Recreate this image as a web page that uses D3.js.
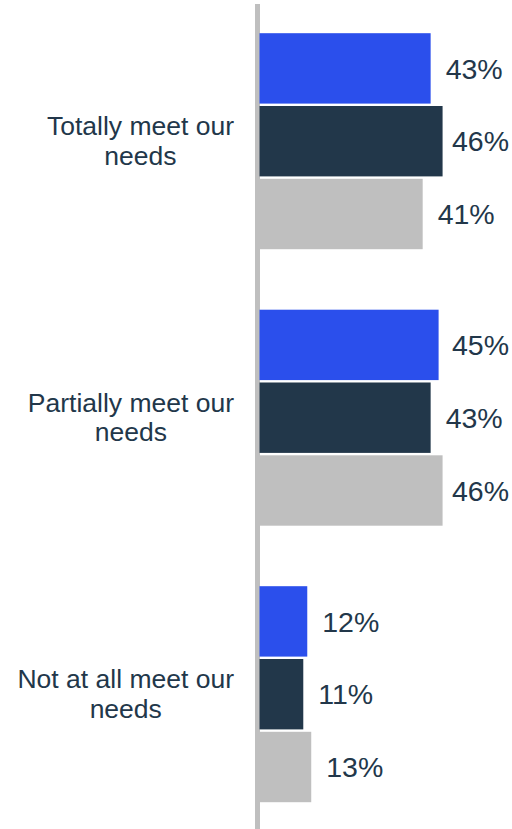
<!DOCTYPE html>
<html>
<head>
<meta charset="utf-8">
<script src="https://cdn.jsdelivr.net/npm/d3@7"></script>
<style>
  html, body { margin: 0; padding: 0; background: #ffffff; }
  svg { display: block; font-family: "Liberation Sans", Arial, sans-serif; }
</style>
</head>
<body>
<svg id="chart" width="512" height="829"></svg>
<script>
// Categories (each label split into lines) and the three series per category
const categories = ["Totally meet our needs", "Partially meet our needs", "Not at all meet our needs"];
const categoryLines = [["Totally meet our", "needs"], ["Partially meet our", "needs"], ["Not at all meet our", "needs"]];
const seriesNames = ["A", "B", "C"];
const seriesA = [43, 45, 12];
const seriesB = [46, 43, 11];
const seriesC = [41, 46, 13];
const seriesColors = ["#2b4fec", "#22374a", "#bfbfbf"];

const values = [seriesA, seriesB, seriesC];
const W = 512, H = 829;
const textColor = "#22374a";

const svg = d3.select("#chart");

// Value axis (no ticks drawn): 0 sits just right of the baseline rule
const x = d3.scaleLinear().domain([0, 100]).range([259.5, 657.5]);

// One band per category, then one sub-band per series
const y0 = d3.scaleBand().domain(categories).range([2.95, 832.45]).padding(0);
const groupPad = 30.25;
const y1 = d3.scaleBand().domain(seriesNames)
  .range([groupPad, y0.bandwidth() - groupPad])
  .paddingInner(0.033).paddingOuter(0);

// Baseline rule
svg.append("line")
  .attr("x1", 257.5).attr("x2", 257.5)
  .attr("y1", 4).attr("y2", H)
  .attr("stroke", "#bfbfbf").attr("stroke-width", 5);

const groups = svg.selectAll("g.cat")
  .data(categories)
  .join("g")
  .attr("class", "cat")
  .attr("transform", d => `translate(0,${y0(d)})`);

groups.each(function(cat, ci) {
  const g = d3.select(this);
  seriesNames.forEach((s, si) => {
    const v = values[si][ci];
    g.append("rect")
      .attr("x", x(0))
      .attr("y", y1(s))
      .attr("width", x(v) - x(0))
      .attr("height", y1.bandwidth())
      .attr("fill", seriesColors[si]);

    const t = g.append("text")
      .attr("y", y1(s) + y1.bandwidth() / 2)
      .attr("dy", "0.36em")
      .attr("font-size", 28.5)
      .attr("fill", textColor)
      .text(v + "%");
    const tw = t.node().getComputedTextLength();
    const tx = Math.min(x(v) + 15, W - 3 - tw);
    t.attr("x", tx);
  });
});

// Category labels: block right-aligned, lines centred within it
const labelRight = 234;
groups.each(function(cat, ci) {
  const g = d3.select(this);
  const lines = categoryLines[ci];
  const texts = lines.map((ln, li) => g.append("text")
    .attr("font-size", 26.5)
    .attr("fill", textColor)
    .attr("text-anchor", "middle")
    .attr("y", y0.bandwidth() / 2 - 6 + li * 29.5)
    .text(ln));
  const maxW = d3.max(texts, t => t.node().getComputedTextLength());
  texts.forEach(t => t.attr("x", labelRight - maxW / 2));
});
</script>
</body>
</html>
